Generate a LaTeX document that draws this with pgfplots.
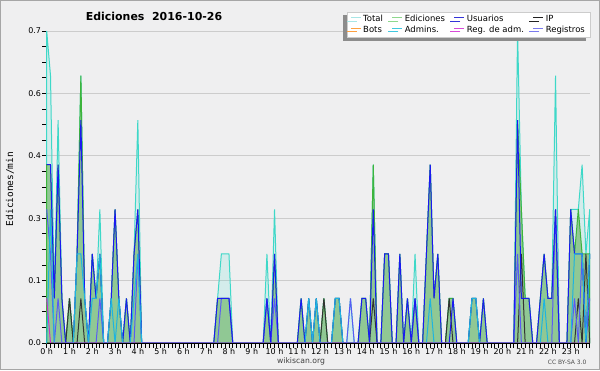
\documentclass[border=0pt]{standalone}
\usepackage{fontspec}
\setmainfont{DejaVu Sans}
\newfontfamily\monofont{DejaVu Sans Mono}
\usepackage{pgfplots}
\pgfplotsset{compat=1.18}
\usepackage{pgfplotstable}
\usetikzlibrary{shadows}
\definecolor{bg}{HTML}{EFEFF0}
\definecolor{totline}{HTML}{3ED8C8}
\definecolor{totfill}{HTML}{40E0D0}
\definecolor{edfill}{HTML}{90C894}
\definecolor{edline}{HTML}{3CB43C}
\definecolor{usr}{HTML}{1A1AF0}
\definecolor{ipc}{HTML}{333333}
\definecolor{adm}{HTML}{1EB4E0}
\definecolor{reg}{HTML}{5A5AF5}
\definecolor{radm}{HTML}{CC33CC}
\definecolor{lgtot}{HTML}{A8E6E6}
\definecolor{lged}{HTML}{8ED88E}
\definecolor{lgusr}{HTML}{3434D8}
\definecolor{lgip}{HTML}{222222}
\definecolor{lgbot}{HTML}{FFA040}
\definecolor{lgadm}{HTML}{40C8E0}
\definecolor{lgradm}{HTML}{D84AD8}
\definecolor{lgreg}{HTML}{7A7AEE}
\definecolor{gridc}{HTML}{CCCCCC}

% b = 10-minute bin, T total, E ediciones, U usuarios, I IP, A admins, R registros, M reg. de adm.
\pgfplotstableread{
b T E U I A R M
0 0.7 0.4 0.4 0 0 0.3 0.1
1 0.6 0.4 0.4 0 0.3 0.2 0
2 0.1 0.1 0.1 0 0 0 0
3 0.5 0.4 0.4 0 0 0.1 0
4 0.1 0.1 0.1 0 0 0 0
5 0 0 0 0 0 0 0
6 0.1 0.1 0 0.1 0 0 0
7 0 0 0 0 0 0 0
8 0.2 0.2 0.2 0 0.2 0 0
9 0.6 0.6 0.5 0.1 0.2 0 0
10 0.1 0.1 0.1 0 0.1 0 0
11 0 0 0 0 0 0 0
12 0.2 0.2 0.2 0 0.1 0 0
13 0.1 0.1 0.1 0 0.1 0 0
14 0.3 0.2 0.2 0 0.2 0.1 0
15 0 0 0 0 0 0 0
16 0 0 0 0 0 0 0
17 0.1 0.1 0.1 0 0.1 0 0
18 0.3 0.3 0.3 0 0 0 0
19 0.1 0.1 0.1 0 0.1 0 0
20 0 0 0 0 0 0 0
21 0.1 0.1 0.1 0 0 0 0
22 0 0 0 0 0 0 0
23 0.2 0.2 0.2 0 0.1 0 0
24 0.5 0.3 0.3 0 0.2 0.2 0
25 0 0 0 0 0 0 0
26 0 0 0 0 0 0 0
27 0 0 0 0 0 0 0
28 0 0 0 0 0 0 0
29 0 0 0 0 0 0 0
30 0 0 0 0 0 0 0
31 0 0 0 0 0 0 0
32 0 0 0 0 0 0 0
33 0 0 0 0 0 0 0
34 0 0 0 0 0 0 0
35 0 0 0 0 0 0 0
36 0 0 0 0 0 0 0
37 0 0 0 0 0 0 0
38 0 0 0 0 0 0 0
39 0 0 0 0 0 0 0
40 0 0 0 0 0 0 0
41 0 0 0 0 0 0 0
42 0 0 0 0 0 0 0
43 0 0 0 0 0 0 0
44 0 0 0 0 0 0 0
45 0.1 0.1 0.1 0 0 0 0
46 0.2 0.1 0.1 0 0 0.1 0
47 0.2 0.1 0.1 0 0 0.1 0
48 0.2 0.1 0.1 0 0 0.1 0
49 0 0 0 0 0 0 0
50 0 0 0 0 0 0 0
51 0 0 0 0 0 0 0
52 0 0 0 0 0 0 0
53 0 0 0 0 0 0 0
54 0 0 0 0 0 0 0
55 0 0 0 0 0 0 0
56 0 0 0 0 0 0 0
57 0 0 0 0 0 0 0
58 0.2 0.1 0.1 0 0 0.1 0
59 0 0 0 0 0 0 0
60 0.3 0.2 0.2 0 0 0.1 0
61 0 0 0 0 0 0 0
62 0 0 0 0 0 0 0
63 0 0 0 0 0 0 0
64 0 0 0 0 0 0 0
65 0 0 0 0 0 0 0
66 0 0 0 0 0 0 0
67 0.1 0.1 0.1 0 0 0 0
68 0 0 0 0 0 0 0
69 0.1 0.1 0.1 0 0.1 0 0
70 0 0 0 0 0 0 0
71 0.1 0.1 0.1 0 0.1 0 0
72 0 0 0 0 0 0 0
73 0.1 0.1 0 0.1 0 0 0
74 0 0 0 0 0 0 0
75 0 0 0 0 0 0 0
76 0.1 0.1 0.1 0 0.1 0 0
77 0.1 0.1 0.1 0 0.1 0 0
78 0 0 0 0 0 0 0
79 0 0 0 0 0 0 0
80 0.1 0 0 0 0 0.1 0
81 0 0 0 0 0 0 0
82 0 0 0 0 0 0 0
83 0.1 0.1 0.1 0 0 0 0
84 0.1 0.1 0.1 0 0 0 0
85 0 0 0 0 0 0 0
86 0.4 0.4 0.3 0.1 0 0 0
87 0 0 0 0 0 0 0
88 0 0 0 0 0 0 0
89 0.2 0.2 0.2 0 0 0 0
90 0.2 0.2 0.2 0 0 0 0
91 0 0 0 0 0 0 0
92 0 0 0 0 0 0 0
93 0.2 0.2 0.2 0 0 0 0
94 0 0 0 0 0 0 0
95 0.1 0.1 0.1 0 0 0 0
96 0 0 0 0 0 0 0
97 0.2 0.1 0.1 0 0 0.1 0
98 0 0 0 0 0 0 0
99 0 0 0 0 0 0 0
100 0.2 0.2 0.2 0 0 0 0
101 0.4 0.4 0.4 0 0.1 0 0
102 0.1 0.1 0.1 0 0 0 0
103 0.2 0.2 0.2 0 0 0 0
104 0 0 0 0 0 0 0
105 0 0 0 0 0 0 0
106 0.1 0.1 0 0.1 0 0 0
107 0.1 0.1 0.1 0 0 0 0
108 0 0 0 0 0 0 0
109 0 0 0 0 0 0 0
110 0 0 0 0 0 0 0
111 0 0 0 0 0 0 0
112 0.1 0.1 0.1 0 0.1 0 0
113 0.1 0.1 0.1 0 0.1 0 0
114 0 0 0 0 0 0 0
115 0.1 0.1 0.1 0 0 0 0
116 0 0 0 0 0 0 0
117 0 0 0 0 0 0 0
118 0 0 0 0 0 0 0
119 0 0 0 0 0 0 0
120 0 0 0 0 0 0 0
121 0 0 0 0 0 0 0
122 0 0 0 0 0 0 0
123 0 0 0 0 0 0 0
124 0.7 0.5 0.5 0 0 0.2 0
125 0.3 0.3 0.1 0.2 0 0 0
126 0.1 0.1 0.1 0 0 0 0
127 0.1 0.1 0.1 0 0 0 0
128 0 0 0 0 0 0 0
129 0 0 0 0 0 0 0
130 0.1 0.1 0.1 0 0 0 0
131 0.2 0.2 0.2 0 0.1 0 0
132 0.1 0.1 0.1 0 0 0 0
133 0.1 0.1 0.1 0 0 0 0
134 0.6 0.3 0.3 0 0 0.3 0
135 0 0 0 0 0 0 0
136 0 0 0 0 0 0 0
137 0 0 0 0 0 0 0
138 0.3 0.3 0.3 0 0 0 0
139 0.3 0.2 0.2 0 0.2 0.1 0
140 0.3 0.3 0.2 0.1 0.2 0 0
141 0.4 0.2 0.2 0 0.2 0.2 0
142 0.2 0.2 0 0.2 0 0 0
143 0.3 0.2 0.2 0 0.2 0.1 0
}\data

\begin{document}
\begin{tikzpicture}[x=1bp,y=1bp]
\fill[bg] (0,0) rectangle (600,370);
\draw[black!35, line width=1bp] (0.5,0.5) rectangle (599.5,369.5);
\node[font=\bfseries\fontsize{11}{13}\selectfont] at (154,354) {Ediciones\ \ 2016-10-26};
\node[rotate=90, font=\monofont\fontsize{9.5}{11}\selectfont] at (10,181) {Ediciones/min};
\node[font=\fontsize{7.7}{9}\selectfont, text=black!75] at (301,8.3) {wikiscan.org};
\node[font=\fontsize{6}{7}\selectfont, text=black!70, anchor=east] at (590,7.3) {CC BY-SA 3.0};
\begin{axis}[
  at={(46.7bp,27bp)}, anchor=south west,
  scale only axis, width=543bp, height=312bp,
  xmin=0, xmax=143, ymin=0, ymax=0.7,
  clip=false,
  axis x line*=bottom, axis y line*=left,
  axis line style={-, black, line width=0.8bp},
  tick align=outside,
  major tick length=4.5bp, minor tick length=4.5bp,
  every tick/.style={black, line width=0.8bp},
  every minor tick/.style={black, line width=0.8bp},
  xtick={0,6,...,138},
  xticklabels={0 h,1 h,2 h,3 h,4 h,5 h,6 h,7 h,8 h,9 h,10 h,11 h,12 h,13 h,14 h,15 h,16 h,17 h,18 h,19 h,20 h,21 h,22 h,23 h},
  minor xtick={0,1,...,143},
  ytick={0,0.14,0.28,0.42,0.56,0.7},
  yticklabels={0.0,0.1,0.3,0.4,0.6,0.7},
  minor ytick={0.035,0.07,0.105,0.175,0.21,0.245,0.315,0.35,0.385,0.455,0.49,0.525,0.595,0.63,0.665},
  ymajorgrids, grid style={gridc, line width=0.8bp},
  xticklabel style={font=\fontsize{8}{9}\selectfont, inner sep=1bp},
  yticklabel style={font=\fontsize{8}{9}\selectfont, inner sep=1bp},
  legend columns=4,
  legend cell align=left,
  legend image code/.code={\draw[#1, line width=0.8bp] (0bp,0.3ex) -- (10bp,0.3ex);},
  legend style={at={(1.0006,1.062)}, anchor=north east,
    font=\fontsize{8.5}{9}\selectfont,
    draw=black!20, fill=white,
    drop shadow={shadow xshift=-4bp, shadow yshift=-3.5bp, fill=black!45, opacity=1},
    inner xsep=3bp, inner ysep=1.5bp, row sep=-1.5bp,
    /tikz/every even column/.append style={column sep=7bp}},
]
\addlegendimage{lgtot}\addlegendentry{Total}
\addlegendimage{lged}\addlegendentry{Ediciones}
\addlegendimage{lgusr}\addlegendentry{Usuarios}
\addlegendimage{lgip}\addlegendentry{IP}
\addlegendimage{lgbot}\addlegendentry{Bots}
\addlegendimage{lgadm}\addlegendentry{Admins.}
\addlegendimage{lgradm}\addlegendentry{Reg. de adm.}
\addlegendimage{lgreg}\addlegendentry{Registros}

\addplot[forget plot, draw=totline, line width=1bp, fill=totfill, fill opacity=0.15] table[x=b,y=T] {\data} \closedcycle;
\addplot[forget plot, draw=edline, line width=1bp, fill=edfill] table[x=b,y=E] {\data} \closedcycle;
\addplot[forget plot, draw=ipc, line width=1bp] table[x=b,y=I] {\data};
\addplot[forget plot, draw=reg, line width=1bp] table[x=b,y=R] {\data};
\addplot[forget plot, draw=usr, line width=1bp] table[x=b,y=U] {\data};
\addplot[forget plot, draw=adm, line width=1bp] table[x=b,y=A] {\data};
\addplot[forget plot, draw=radm, line width=1bp] table[x=b,y=M] {\data};
\draw[black, line width=0.8bp] (axis cs:0,0) -- (axis cs:143,0);
\end{axis}
\end{tikzpicture}
\end{document}
